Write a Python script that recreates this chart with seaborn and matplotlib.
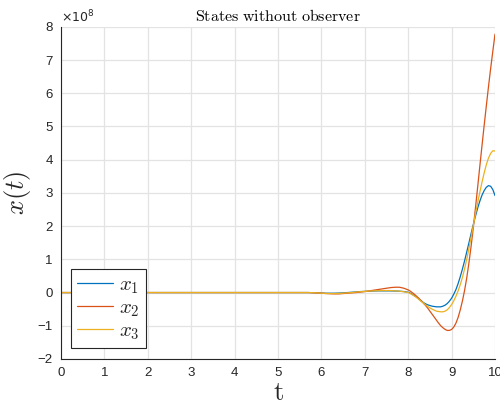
import pandas as pd
import matplotlib
matplotlib.use("Agg")
import matplotlib.pyplot as plt
import seaborn as sns

# time samples
t_early = [0.0, 0.5, 1.0, 1.5, 2.0, 2.5, 3.0, 3.5, 4.0, 4.5, 5.0, 5.5]
t_mid = [5.6, 5.7, 5.8, 5.9, 6.0, 6.1, 6.2, 6.3, 6.4, 6.5, 6.6, 6.7,
         6.8, 6.9, 7.0, 7.1, 7.2, 7.3, 7.4, 7.5, 7.6, 7.7, 7.8, 7.9]
t_late = [8.0, 8.05, 8.1, 8.15, 8.2, 8.25, 8.3, 8.35, 8.4, 8.45, 8.5, 8.55,
          8.6, 8.65, 8.7, 8.75, 8.8, 8.85, 8.9, 8.95, 9.0, 9.05, 9.1, 9.15,
          9.2, 9.25, 9.3, 9.35, 9.4, 9.45, 9.5, 9.55, 9.6, 9.65, 9.7, 9.75,
          9.8, 9.85, 9.9, 9.95, 10.0]
t = t_early + t_mid + t_late

# states in units of 1e8
zeros_early = [0.0] * len(t_early)
x1 = zeros_early + [
    0.0, 0.0, -0.005, -0.01, -0.015, -0.02, -0.02, -0.02, -0.015, -0.01, 0.0, 0.01,
    0.02, 0.03, 0.035, 0.04, 0.045, 0.05, 0.05, 0.05, 0.05, 0.045, 0.04, 0.03,
] + [
    0.01, -0.02, -0.06, -0.10, -0.14, -0.20, -0.25, -0.30, -0.34, -0.37, -0.39, -0.41,
    -0.42, -0.43, -0.43, -0.43, -0.41, -0.38, -0.33, -0.26, -0.17, -0.05, 0.09, 0.27,
    0.48, 0.71, 0.96, 1.23, 1.50, 1.78, 2.05, 2.30, 2.54, 2.75, 2.93, 3.07,
    3.17, 3.22, 3.20, 3.10, 2.92,
]
x2 = zeros_early + [
    0.0, 0.0, -0.005, -0.01, -0.02, -0.03, -0.035, -0.04, -0.04, -0.03, -0.02, -0.01,
    0.0, 0.015, 0.03, 0.05, 0.07, 0.09, 0.11, 0.13, 0.15, 0.16, 0.16, 0.13,
] + [
    0.08, 0.04, -0.01, -0.06, -0.12, -0.18, -0.25, -0.32, -0.39, -0.47, -0.56, -0.65,
    -0.74, -0.83, -0.92, -1.00, -1.06, -1.11, -1.14, -1.14, -1.11, -1.04, -0.92, -0.75,
    -0.52, -0.25, 0.07, 0.45, 0.90, 1.40, 1.95, 2.55, 3.17, 3.80, 4.42, 5.03,
    5.62, 6.20, 6.75, 7.27, 7.78,
]
x3 = zeros_early + [
    0.0, 0.0, -0.005, -0.01, -0.02, -0.025, -0.03, -0.03, -0.025, -0.02, -0.01, 0.0,
    0.015, 0.025, 0.035, 0.045, 0.05, 0.055, 0.06, 0.06, 0.06, 0.05, 0.04, 0.025,
] + [
    0.0, -0.03, -0.07, -0.11, -0.16, -0.21, -0.27, -0.31, -0.37, -0.42, -0.46, -0.50,
    -0.53, -0.56, -0.57, -0.58, -0.58, -0.56, -0.52, -0.45, -0.36, -0.25, -0.11, 0.05,
    0.24, 0.46, 0.72, 1.01, 1.33, 1.67, 2.02, 2.37, 2.70, 3.02, 3.32, 3.60,
    3.85, 4.05, 4.19, 4.27, 4.26,
]

labels = [r"$x_1$", r"$x_2$", r"$x_3$"]
colors = ["#0072BD", "#D95319", "#EDB120"]
x_ticks = list(range(0, 11))
y_ticks = list(range(-2, 9))

sns.set_style("white")
plt.rcParams["font.family"] = ["Liberation Sans", "DejaVu Sans"]
plt.rcParams["mathtext.fontset"] = "cm"

df = pd.DataFrame({"t": t, "x1": x1, "x2": x2, "x3": x3})

fig = plt.figure(figsize=(5.0, 4.07), dpi=100)
ax = fig.add_axes([0.122, 0.118, 0.868, 0.816])

for col, lab, c in zip(["x1", "x2", "x3"], labels, colors):
    sns.lineplot(data=df, x="t", y=col, ax=ax, color=c, linewidth=0.9,
                 label=lab, sort=False)

ax.set_xlim(0, 10)
ax.set_ylim(-2, 8)
ax.set_xticks(x_ticks)
ax.set_yticks(y_ticks)
ax.grid(True, color="#e3e3e3", linewidth=0.9)
ax.set_axisbelow(True)
for s in ["top", "right"]:
    ax.spines[s].set_visible(False)
for s in ["left", "bottom"]:
    ax.spines[s].set_color("#262626")
    ax.spines[s].set_linewidth(0.8)
ax.tick_params(direction="in", length=4, width=0.8, colors="#262626",
               labelsize=9.5, pad=6)

ax.set_title(r"$\mathrm{States\ without\ observer}$", fontsize=11.5, pad=4,
             color="#000000")
ax.set_xlabel(r"$\mathrm{t}$", fontsize=19, labelpad=1)
ax.set_ylabel(r"$x(t)$", fontsize=19, labelpad=3)

ax.text(0.0, 1.005, r"$\times10^{8}$", transform=ax.transAxes,
        fontsize=9, color="#262626", ha="left", va="bottom",
        math_fontfamily="dejavusans")

leg = ax.legend(loc="lower left", bbox_to_anchor=(0.023, 0.033),
                borderaxespad=0, fancybox=False, framealpha=1,
                edgecolor="#262626", fontsize=15, handlelength=1.7,
                handletextpad=0.3, labelspacing=0.12, borderpad=0.3)
leg.get_frame().set_linewidth(0.8)

plt.savefig("out.png", dpi=100)
plt.close()
